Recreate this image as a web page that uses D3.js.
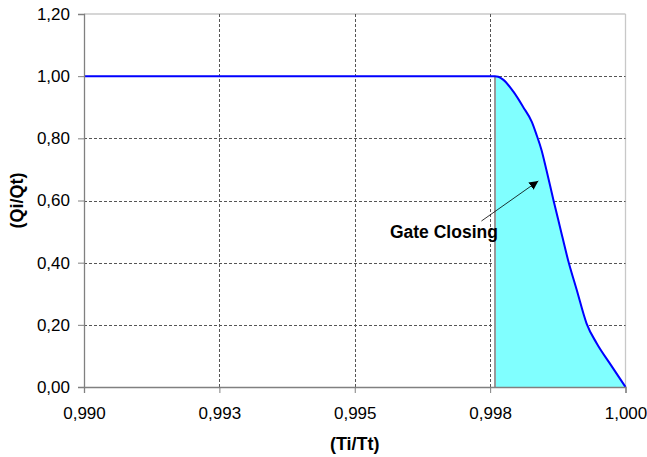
<!DOCTYPE html>
<html>
<head>
<meta charset="utf-8">
<script src="https://cdn.jsdelivr.net/npm/d3@7"></script>
<style>
  html, body { margin: 0; padding: 0; background: #fff; }
  svg { display: block; }
  text { font-family: Arial, "Liberation Sans", sans-serif; }
</style>
</head>
<body>
<svg id="chart" width="647" height="457"></svg>
<script>
// ---- data ----
const xValues = [0.990, 0.9975, 0.99759, 0.99765, 0.99774, 0.99793, 0.99811, 0.99827, 0.99836, 0.99845, 0.99854, 0.99867, 0.99879, 0.99894, 0.99910, 0.99928, 0.99947, 0.99971, 1.000];
const yValues = [1.000, 1.000, 1.000, 0.998, 0.989, 0.950, 0.901, 0.853, 0.810, 0.762, 0.698, 0.601, 0.515, 0.408, 0.312, 0.205, 0.140, 0.076, 0.000];
const fillStart = 0.99759;

const xTicks = [0.990, 0.9925, 0.995, 0.9975, 1.000];
const xTickLabels = ["0,990", "0,993", "0,995", "0,998", "1,000"];
const yTicks = [0, 0.2, 0.4, 0.6, 0.8, 1.0, 1.2];
const yTickLabels = ["0,00", "0,20", "0,40", "0,60", "0,80", "1,00", "1,20"];

const xTitle = "(Ti/Tt)";
const yTitle = "(Qi/Qt)";
const annotationText = "Gate Closing";
const annotationTextPos = [0.99565, 0.480];
const arrowTail = [0.99734, 0.534];
const arrowTip = [0.99839, 0.663];

// ---- layout ----
const W = 647, H = 457;
const margin = { left: 84, top: 14, right: 21.5, bottom: 70 };
const svg = d3.select("#chart");

const x = d3.scaleLinear().domain([0.990, 1.000]).range([margin.left, W - margin.right]);
const y = d3.scaleLinear().domain([0, 1.2]).range([H - margin.bottom, margin.top]);

const points = xValues.map((v, i) => ({ x: v, y: yValues[i] }));

// plot border (top & right)
svg.append("line")
  .attr("x1", x(0.990)).attr("x2", x(1.0))
  .attr("y1", y(1.2)).attr("y2", y(1.2))
  .attr("stroke", "#c8c8c8").attr("stroke-width", 1.3);
svg.append("line")
  .attr("x1", x(1.0)).attr("x2", x(1.0))
  .attr("y1", y(1.2)).attr("y2", y(0))
  .attr("stroke", "#c8c8c8").attr("stroke-width", 1.3);

// horizontal gridlines
svg.append("g").selectAll("line")
  .data(yTicks.filter(t => t > 0 && t < 1.2))
  .join("line")
  .attr("x1", x(0.990)).attr("x2", x(1.0))
  .attr("y1", d => Math.round(y(d)) + 0.5).attr("y2", d => Math.round(y(d)) + 0.5)
  .attr("stroke", "#555").attr("stroke-width", 1)
  .attr("stroke-dasharray", "3,2");

// vertical gridlines
svg.append("g").selectAll("line")
  .data(xTicks.filter(t => t > 0.990 && t < 1.0))
  .join("line")
  .attr("x1", d => Math.round(x(d)) + 0.5).attr("x2", d => Math.round(x(d)) + 0.5)
  .attr("y1", y(1.2)).attr("y2", y(0))
  .attr("stroke", "#555").attr("stroke-width", 1)
  .attr("stroke-dasharray", "3,2");

// filled area
const fillPts = points.filter(p => p.x >= fillStart);
const area = d3.area().x(d => x(d.x)).y0(y(0)).y1(d => y(d.y));
svg.append("path")
  .datum(fillPts)
  .attr("d", area)
  .attr("fill", "#80ffff");
// left edge of fill
svg.append("line")
  .attr("x1", x(fillStart)).attr("x2", x(fillStart))
  .attr("y1", y(0)).attr("y2", y(1.0))
  .attr("stroke", "#999").attr("stroke-width", 2);

// curve
const line = d3.line().x(d => x(d.x)).y(d => y(d.y)).curve(d3.curveMonotoneX);
svg.append("path")
  .datum(points)
  .attr("d", line)
  .attr("fill", "none")
  .attr("stroke", "#0000ff")
  .attr("stroke-width", 2);

// axes
const yAxis = d3.axisLeft(y).tickValues(yTicks)
  .tickFormat((d, i) => yTickLabels[i]).tickSizeOuter(0).tickSize(6).tickPadding(8);
const gy = svg.append("g").attr("transform", `translate(${margin.left},0)`).call(yAxis);

const xAxis = d3.axisBottom(x).tickValues(xTicks)
  .tickFormat((d, i) => xTickLabels[i]).tickSizeOuter(0).tickSize(6).tickPadding(14);
const gx = svg.append("g").attr("transform", `translate(0,${H - margin.bottom})`).call(xAxis);

[gx, gy].forEach(g => {
  g.select(".domain").attr("stroke", "#808080").attr("stroke-width", 1.3);
  g.selectAll(".tick line").attr("stroke", "#808080");
  g.selectAll(".tick text")
    .attr("fill", "#000")
    .style("font-size", "17px")
    .style("font-family", "Arial, 'Liberation Sans', sans-serif");
});

// axis titles
svg.append("text")
  .attr("x", (x(0.990) + x(1.0)) / 2)
  .attr("y", 450)
  .attr("text-anchor", "middle")
  .style("font-size", "18px").style("font-weight", "bold")
  .text(xTitle);

svg.append("text")
  .attr("transform", `translate(23,${(y(0) + y(1.2)) / 2}) rotate(-90)`)
  .attr("text-anchor", "middle")
  .style("font-size", "18px").style("font-weight", "bold")
  .text(yTitle);

// annotation arrow
svg.append("defs").append("marker")
  .attr("id", "arrowhead")
  .attr("viewBox", "0 0 10 10")
  .attr("refX", 10).attr("refY", 5)
  .attr("markerWidth", 9).attr("markerHeight", 9)
  .attr("markerUnits", "userSpaceOnUse")
  .attr("orient", "auto")
  .append("path")
  .attr("d", "M0,0 L10,5 L0,10 z")
  .attr("fill", "#000");

svg.append("line")
  .attr("x1", x(arrowTail[0])).attr("y1", y(arrowTail[1]))
  .attr("x2", x(arrowTip[0])).attr("y2", y(arrowTip[1]))
  .attr("stroke", "#000").attr("stroke-width", 0.8)
  .attr("marker-end", "url(#arrowhead)");

svg.append("text")
  .attr("x", x(annotationTextPos[0]))
  .attr("y", y(annotationTextPos[1]))
  .style("font-size", "17.5px").style("font-weight", "bold")
  .text(annotationText);
</script>
</body>
</html>
